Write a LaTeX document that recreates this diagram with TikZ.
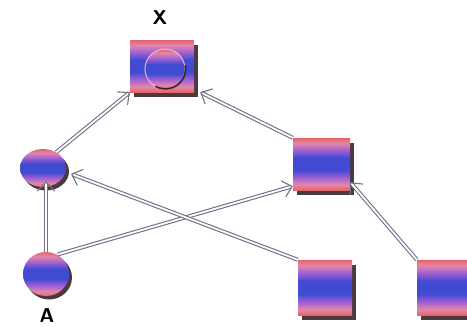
\documentclass[tikz,border=0pt]{standalone}
\usetikzlibrary{arrows.meta,shapes.geometric,shadows}
\definecolor{bsal}{RGB}{230,100,105}
\definecolor{bpink}{RGB}{226,135,170}
\definecolor{bpur}{RGB}{160,95,210}
\definecolor{bblue}{RGB}{65,75,210}
\definecolor{shadc}{RGB}{55,35,40}
\definecolor{edgec}{RGB}{112,112,135}
\pgfdeclareverticalshading{bands}{100bp}{color(0bp)=(bsal); color(25bp)=(bsal); color(30bp)=(bpink); color(37bp)=(bpur); color(44bp)=(bblue); color(56bp)=(bblue); color(63bp)=(bpur); color(70bp)=(bpink); color(75bp)=(bsal); color(100bp)=(bsal)}
\tikzset{
  box/.style={rectangle, inner sep=0pt, shading=bands,
    drop shadow={shadow xshift=3.5pt, shadow yshift=-4.5pt, fill=shadc, opacity=0.9}},
  ball/.style={ellipse, inner sep=0pt, shading=bands,
    drop shadow={shadow xshift=3pt, shadow yshift=-3.5pt, fill=shadc, opacity=0.9}},
  conn/.style={draw=edgec, line width=1.1pt, double=white, double distance=1.8pt,
    -{Straight Barb[length=9pt, width=17pt]}},
  lab/.style={font=\sffamily\bfseries\fontsize{20}{22}\selectfont}
}
\begin{document}
\begin{tikzpicture}[x=1pt, y=-1pt]
  \useasboundingbox (0,0) rectangle (467,327);
  % nodes
  \node[box, minimum width=64pt, minimum height=52pt] (x) at (162,66) {};
  \node[circle, inner sep=0pt, minimum size=40pt, shading=bands,
        draw=bpink!60!white, line width=1pt] (xin) at (165,69) {};
  \draw[shadc, line width=1.6pt] (xin.10) arc[start angle=10, end angle=-120, radius=20pt];
  \node[box, minimum width=57pt, minimum height=52pt] (rm) at (321.5,164) {};
  \node[box, minimum width=54pt, minimum height=55pt] (bm) at (325,287.5) {};
  \node[box, minimum width=56pt, minimum height=55pt] (br) at (445,287.5) {};
  \node[ball, minimum width=46pt, minimum height=38pt] (lc) at (43,168) {};
  \node[ball, minimum width=46pt, minimum height=44pt] (a) at (46,274) {};
  % labels
  \node[lab] (xl) at (160,18) {X};
  \node[lab] (al) at (47,316) {A};
  % connectors
  \draw[conn] (lc.50) -- (x.south west);
  \draw[conn] (rm.north west) -- ([xshift=6pt]x.south east);
  \draw[conn] (a.north) -- ([yshift=6pt]a.north |- lc.south);
  \draw[conn] (a.60) -- ([yshift=4pt]rm.south west);
  \draw[conn] (bm.north west) -- ([xshift=6pt]lc.-15);
  \draw[conn] (br.north west) -- ([yshift=8pt]rm.south east);
\end{tikzpicture}
\end{document}
